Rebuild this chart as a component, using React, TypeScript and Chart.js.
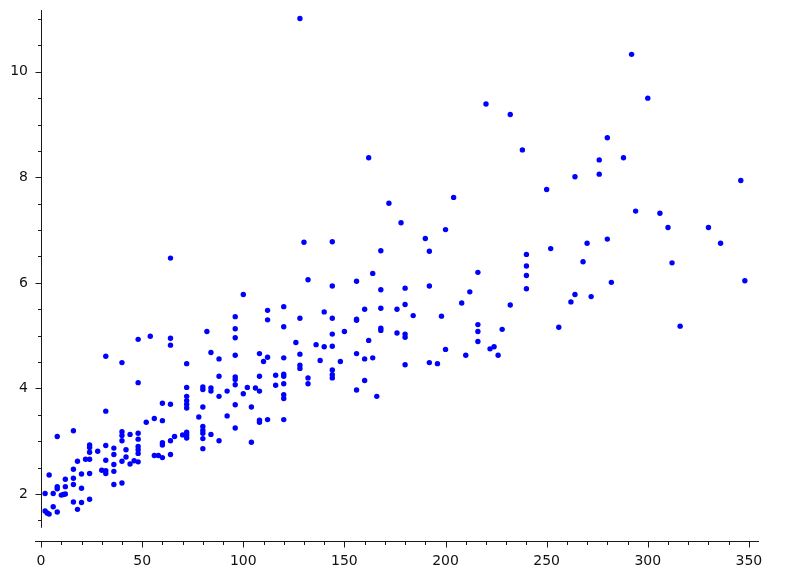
import React, { useEffect, useRef } from "react";
import { Chart, registerables } from "chart.js";

Chart.register(...registerables);

// Scatter data (x, y pairs)
const xValues: number[] = [
  2, 4, 2, 3, 4, 6, 6, 8, 8, 8, 8, 10, 12, 12, 12, 11, 16, 16, 16, 16, 16, 18, 18, 20, 20, 20,
  22, 24, 24, 24, 24, 24, 24, 28, 30, 32, 32, 32, 32, 32, 32, 36, 36, 36, 36, 36, 40, 40, 40, 40,
  40, 40, 42, 42, 44, 44, 46, 48, 48, 48, 48, 48, 48, 48, 48, 52, 54, 56, 56, 58, 60, 60, 60, 60,
  60, 64, 64, 64, 64, 64, 64, 66, 70, 72, 72, 72, 72, 72, 72, 72, 72, 72, 78, 80, 80, 80, 80, 80,
  80, 80, 80, 82, 84, 84, 84, 84, 88, 88, 88, 88, 92, 92, 96, 96, 96, 96, 96, 96, 96, 96, 96,
  100, 100, 102, 104, 104, 106, 108, 108, 108, 108, 108, 110, 112, 112, 112, 112, 116, 116,
  120, 120, 120, 120, 120, 120, 120, 120, 120, 126, 128, 128, 128, 128, 128, 130, 132, 132, 132,
  136, 138, 140, 140, 144, 144, 144, 144, 144, 144, 144, 144, 148, 150, 156, 156, 156, 156, 156,
  160, 160, 160, 162, 162, 164, 164, 166, 168, 168, 168, 168, 168, 172, 176, 176, 178, 180, 180,
  180, 180, 180, 184, 190, 192, 192, 192, 196, 198, 200, 200, 204, 208, 210, 212, 216, 216, 216,
  216, 220, 222, 224, 226, 228, 232, 232, 238, 240, 240, 240, 240, 250, 252, 256, 262, 264, 264,
  268, 270, 272, 276, 276, 280, 280, 282, 288, 292, 294, 300, 306, 310, 312, 316, 330, 336, 346, 348,
];
const yValues: number[] = [
  2.01, 2.36, 1.68, 1.64, 1.62, 1.76, 2.01, 2.10, 1.66, 3.09, 2.14, 1.98, 2.28, 2.14, 2.00, 1.99,
  3.20, 2.47, 2.30, 2.18, 1.85, 2.62, 1.71, 2.38, 2.11, 1.84,
  2.66, 2.66, 2.93, 2.88, 2.79, 2.39, 1.90, 2.81, 2.45, 2.92, 2.64, 2.44, 2.39, 4.61, 3.57,
  2.87, 2.75, 2.56, 2.43, 2.18, 4.49, 3.18, 3.11, 3.01,
  2.62, 2.21, 2.84, 2.70, 3.13, 2.57, 2.63, 4.93, 4.11, 3.15, 3.04, 2.90, 2.84, 2.77, 2.61,
  3.36, 4.99, 3.43, 2.73, 2.73, 3.72, 3.39, 2.97, 2.93,
  2.69, 6.47, 4.95, 4.82, 3.70, 3.01, 2.75, 3.09, 3.12, 4.47, 4.02, 3.85, 3.77, 3.70, 3.63,
  3.17, 3.12, 3.06, 3.46, 4.03, 3.98, 3.65, 3.28, 3.21,
  3.15, 3.05, 2.86, 5.08, 4.68, 4.01, 3.95, 3.13, 4.56, 4.23, 3.85, 3.01, 3.95, 3.48,
  4.63, 5.36, 5.13, 4.96, 4.22, 4.17, 4.07, 3.69, 3.25,
  5.78, 3.90, 4.02, 3.65, 2.98, 4.01, 4.66, 4.23, 3.95, 3.40, 3.36, 4.51, 5.48, 5.30, 4.59, 3.41,
  4.25, 4.06,
  5.55, 5.17, 4.58, 4.27, 4.23, 4.09, 3.88, 3.81, 3.41, 4.87, 11.01, 5.33, 4.65, 4.44, 4.38,
  6.77, 6.06, 4.20, 4.09,
  4.83, 4.53, 5.45, 4.79, 6.78, 5.94, 5.33, 5.03, 4.80, 4.35, 4.26, 4.20, 4.51, 5.08, 6.03,
  5.31, 5.29, 4.66, 3.97,
  5.50, 4.56, 4.15, 8.37, 4.91, 6.18, 4.58, 3.85, 6.61, 5.87, 5.52, 5.14, 5.10, 7.51, 5.50,
  5.05, 7.14, 5.90, 5.59,
  5.03, 4.97, 4.45, 5.38, 6.84, 6.60, 5.94, 4.49, 4.47, 5.37, 7.01, 4.74, 7.62, 5.62, 4.63,
  5.83, 6.20, 5.21, 5.08,
  4.89, 9.39, 4.75, 4.79, 4.63, 5.12, 9.19, 5.58, 8.52, 6.54, 6.32, 6.14, 5.89, 7.77, 6.65,
  5.16, 5.64, 8.01, 5.78,
  6.40, 6.75, 5.74, 8.33, 8.06, 8.75, 6.83, 6.01, 8.37, 10.33, 7.36, 9.50, 7.32, 7.05, 6.38,
  5.18, 7.05, 6.75, 7.94, 6.04,
];

const xTickValues: number[] = [0, 50, 100, 150, 200, 250, 300, 350];
const yTickValues: number[] = [2, 4, 6, 8, 10];

const X_MIN = -3;
const X_MAX = 355;
const Y_MIN = 1.11;
const Y_MAX = 11.17;
const Y_SPINE_BOTTOM = 1.36;

const axesPlugin = {
  id: "sageAxes",
  afterDraw(chart: any) {
    const { ctx, scales, chartArea } = chart;
    const xs = scales.x;
    const ys = scales.y;
    ctx.save();
    ctx.strokeStyle = "#1a1a1a";
    ctx.lineWidth = 1;
    // y spine at x = 0
    const x0 = Math.round(xs.getPixelForValue(0)) + 0.5;
    ctx.beginPath();
    ctx.moveTo(x0, ys.getPixelForValue(Y_MAX));
    ctx.lineTo(x0, ys.getPixelForValue(Y_SPINE_BOTTOM));
    ctx.stroke();
    // y ticks
    for (let i = 3; i <= 22; i++) {
      const v = i / 2;
      const major = v % 2 === 0;
      const len = major ? 6 : 3.5;
      const py = Math.round(ys.getPixelForValue(v)) + 0.5;
      ctx.beginPath();
      ctx.moveTo(x0 - len, py);
      ctx.lineTo(x0, py);
      ctx.stroke();
    }
    // x axis line at bottom
    const yb = Math.round(chartArea.bottom) + 0.5;
    ctx.beginPath();
    ctx.moveTo(chartArea.left, yb);
    ctx.lineTo(chartArea.right, yb);
    ctx.stroke();
    for (let v = 0; v <= 350; v += 10) {
      const major = v % 50 === 0;
      const len = major ? 6 : 3.5;
      const px = Math.round(xs.getPixelForValue(v)) + 0.5;
      ctx.beginPath();
      ctx.moveTo(px, yb);
      ctx.lineTo(px, yb + len);
      ctx.stroke();
    }
    ctx.restore();
  },
};

function zeroPad(s: any) {
  s.paddingTop = 0;
  s.paddingBottom = 0;
  s.paddingLeft = 0;
  s.paddingRight = 0;
}

export default function App() {
  const canvasRef = useRef<HTMLCanvasElement | null>(null);

  useEffect(() => {
    const canvas = canvasRef.current;
    if (!canvas) return;
    const data = xValues.map((x, i) => ({ x, y: yValues[i] }));
    const font = { family: "DejaVu Sans", size: 14 };
    const chart = new Chart(canvas, {
      type: "scatter",
      data: {
        datasets: [
          {
            data,
            backgroundColor: "#0000ff",
            borderWidth: 0,
            pointRadius: 2.7,
            pointHoverRadius: 2.7,
          },
        ],
      },
      options: {
        responsive: false,
        animation: false,
        events: [],
        layout: { padding: { top: 10, right: 29, bottom: 0, left: 0 } },
        plugins: {
          legend: { display: false },
          tooltip: { enabled: false },
        },
        scales: {
          x: {
            type: "linear",
            position: "bottom",
            min: X_MIN,
            max: X_MAX,
            afterFit: (s: any) => {
              s.height = 35;
              zeroPad(s);
            },
            afterBuildTicks: (s: any) => {
              s.ticks = xTickValues.map((v) => ({ value: v }));
            },
            grid: { display: false, drawTicks: false },
            border: { display: false },
            ticks: {
              padding: 12,
              color: "#111",
              font,
              maxRotation: 0,
              autoSkip: false,
            },
          },
          y: {
            type: "linear",
            min: Y_MIN,
            max: Y_MAX,
            afterFit: (s: any) => {
              s.width = 35;
              zeroPad(s);
            },
            afterBuildTicks: (s: any) => {
              s.ticks = yTickValues.map((v) => ({ value: v }));
            },
            grid: { display: false, drawTicks: false },
            border: { display: false },
            ticks: {
              padding: 7,
              color: "#111",
              font,
              autoSkip: false,
            },
          },
        },
      },
      plugins: [axesPlugin],
    });
    return () => chart.destroy();
  }, []);

  return (
    <div style={{ position: "absolute", left: 0, top: 0, width: 788, height: 576, background: "#fff" }}>
      <canvas ref={canvasRef} width={788} height={576} style={{ display: "block" }} />
    </div>
  );
}
